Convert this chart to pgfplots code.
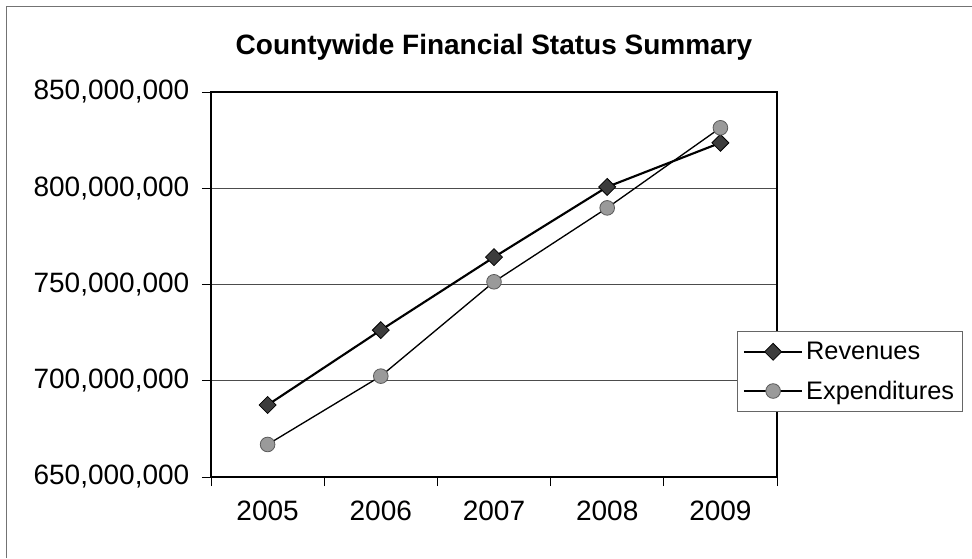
\documentclass[border=0pt]{standalone}
\usepackage{pgfplots}
\pgfplotsset{compat=1.18}
\usepackage{fontspec}
\setmainfont{Liberation Sans}
\definecolor{revfill}{HTML}{3C3C3C}
\definecolor{expfill}{HTML}{9A9A9A}
\definecolor{expedge}{HTML}{5A5A5A}
\begin{document}
\begin{tikzpicture}[x=0.75pt,y=0.75pt]
\useasboundingbox (0,0) rectangle (972,558);
% outer frame (top and left visible)
\draw[black!55, line width=0.6pt] (6,0) -- (6,552) -- (972,552);
% title
\node[font=\fontsize{21}{25}\bfseries\selectfont, anchor=center] at (494,511) {Countywide Financial Status Summary};
\coordinate (SW) at (211,81);
\begin{axis}[
  at={(SW)}, anchor=south west,
  scale only axis,
  width=424.5pt, height=288.75pt,
  xmin=-0.5, xmax=4.5,
  ymin=650, ymax=850,
  xtick={0,1,2,3,4},
  xticklabels={2005,2006,2007,2008,2009},
  minor xtick={-0.5,0.5,1.5,2.5,3.5,4.5},
  ytick={650,700,750,800,850},
  yticklabels={{650,000,000},{700,000,000},{750,000,000},{800,000,000},{850,000,000}},
  xtick pos=bottom, ytick pos=left,
  tick align=outside,
  major tick length=6.75pt,
  minor tick length=6.75pt,
  every major x tick/.append style={draw=none},
  tick style={black, line width=0.6pt},
  ymajorgrids=true,
  grid style={black!70, line width=0.6pt},
  axis line style={black, line width=0.8pt},
  ticklabel style={font=\fontsize{21}{25}\selectfont},
  /pgf/number format/assume math mode=true,
  xticklabel style={yshift=-8pt},
  yticklabel style={xshift=-6pt},
  legend style={
    at={(0.9293,0.3792)}, anchor=north west,
    draw=black!60, line width=0.6pt,
    font=\fontsize{19}{22}\selectfont,
    inner xsep=4pt, inner ysep=6pt,
    row sep=10.5pt,
  },
  legend cell align=left,
  legend image code/.code={
    \draw[mark repeat=2, mark phase=2, #1] plot coordinates {(0pt,0pt) (22pt,0pt) (44pt,0pt)};
  },
]
\addplot[black, line width=1.6pt, mark=square*, mark size=4.5pt,
  mark options={rotate=45, fill=revfill, draw=black, line width=0.6pt}]
  coordinates {(0,687.4) (1,726.3) (2,764.2) (3,800.7) (4,823.6)};
\addlegendentry{Revenues}
\addplot[black, line width=1pt, mark=*, mark size=5.5pt,
  mark options={fill=expfill, draw=expedge, line width=0.6pt}]
  coordinates {(0,666.9) (1,702.4) (2,751.4) (3,789.8) (4,831.4)};
\addlegendentry{Expenditures}
\end{axis}
\end{tikzpicture}
\end{document}
